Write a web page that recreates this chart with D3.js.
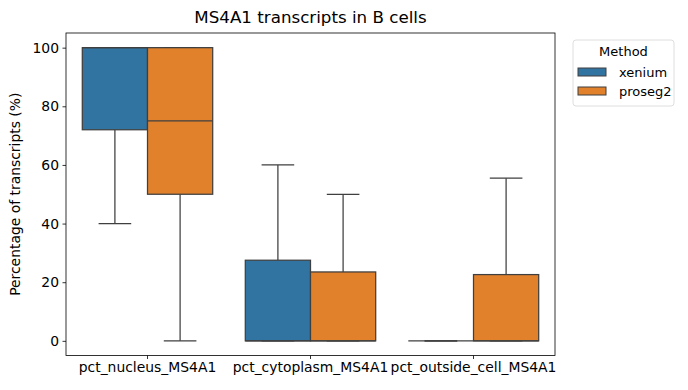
<!DOCTYPE html>
<html>
<head>
<meta charset="utf-8">
<script src="https://cdn.jsdelivr.net/npm/d3@7"></script>
<style>
  body { margin: 0; background: #fff; }
  text { font-family: "DejaVu Sans", sans-serif; fill: #000; }
</style>
</head>
<body>
<svg id="chart" width="688" height="390"></svg>
<script>
// data
const categories = ["pct_nucleus_MS4A1", "pct_cytoplasm_MS4A1", "pct_outside_cell_MS4A1"];
const methods = ["xenium", "proseg2"];
const colors = ["#3274a1", "#e1812c"];
// [whiskerLow, q1, median, q3, whiskerHigh] per category
const xeniumStats = [
  [40, 72, 100, 100, 100],
  [0, 0, 0, 27.5, 60],
  [0, 0, 0, 0, 0]
];
const proseg2Stats = [
  [0, 50, 75, 100, 100],
  [0, 0, 0, 23.5, 50],
  [0, 0, 0, 22.6, 55.5]
];
const yTicks = [0, 20, 40, 60, 80, 100];

const svg = d3.select("#chart");
const m = { left: 66, right: 555, top: 33, bottom: 355.5 };
const lineCol = "#3f3f3f";
const fs = "13.9px";

const x = d3.scaleBand().domain(categories).range([m.left, m.right]);
const y = d3.scaleLinear().domain([-5, 105]).range([m.bottom, m.top]);
const step = x.bandwidth();
const boxW = step * 0.4;

const all = [xeniumStats, proseg2Stats];

all.forEach((stats, mi) => {
  const g = svg.append("g");
  stats.forEach((s, ci) => {
    const cx = x(categories[ci]) + step / 2;
    const x0 = cx + (mi === 0 ? -boxW : 0);
    const mid = x0 + boxW / 2;
    const [lo, q1, med, q3, hi] = s;
    // whiskers
    g.append("line").attr("x1", mid).attr("x2", mid).attr("y1", y(q3)).attr("y2", y(hi))
      .attr("stroke", lineCol).attr("stroke-width", 1.25);
    g.append("line").attr("x1", mid).attr("x2", mid).attr("y1", y(q1)).attr("y2", y(lo))
      .attr("stroke", lineCol).attr("stroke-width", 1.25);
    // caps
    [lo, hi].forEach(v => {
      g.append("line").attr("x1", mid - boxW / 4).attr("x2", mid + boxW / 4)
        .attr("y1", y(v)).attr("y2", y(v)).attr("stroke", lineCol).attr("stroke-width", 1.25);
    });
    // box
    g.append("rect").attr("x", x0).attr("width", boxW)
      .attr("y", y(q3)).attr("height", Math.max(0, y(q1) - y(q3)))
      .attr("fill", colors[mi]).attr("stroke", lineCol).attr("stroke-width", 1.25);
    // median
    g.append("line").attr("x1", x0).attr("x2", x0 + boxW)
      .attr("y1", y(med)).attr("y2", y(med)).attr("stroke", lineCol).attr("stroke-width", 1.25);
  });
});

// axes
const yAxis = d3.axisLeft(y).tickValues(yTicks).tickSize(3.5).tickPadding(3.5);
const gy = svg.append("g").attr("transform", `translate(${m.left},0)`).call(yAxis);
gy.select(".domain").remove();
gy.selectAll("text").style("font-size", fs).style("font-family", "DejaVu Sans");
gy.selectAll("line").attr("stroke", "#000").attr("stroke-width", 0.8);

const xAxis = d3.axisBottom(x).tickSize(3.5).tickPadding(3.5);
const gx = svg.append("g").attr("transform", `translate(0,${m.bottom})`).call(xAxis);
gx.select(".domain").remove();
gx.selectAll("text").style("font-size", fs).style("font-family", "DejaVu Sans");
gx.selectAll("line").attr("stroke", "#000").attr("stroke-width", 0.8);

// frame
svg.append("rect").attr("x", m.left).attr("y", m.top)
  .attr("width", m.right - m.left).attr("height", m.bottom - m.top)
  .attr("fill", "none").attr("stroke", "#000").attr("stroke-width", 0.8);

// title and labels
svg.append("text").attr("x", (m.left + m.right) / 2).attr("y", 23)
  .attr("text-anchor", "middle").style("font-size", "16.7px")
  .text("MS4A1 transcripts in B cells");
svg.append("text").attr("transform", `translate(20,${(m.top + m.bottom) / 2}) rotate(-90)`)
  .attr("text-anchor", "middle").style("font-size", fs)
  .text("Percentage of transcripts (%)");

// legend
const lg = svg.append("g").attr("transform", "translate(573,40)");
lg.append("rect").attr("width", 101).attr("height", 66).attr("rx", 3)
  .attr("fill", "#fff").attr("stroke", "#d6d6d6").attr("stroke-width", 0.8);
lg.append("text").attr("x", 50.5).attr("y", 16).attr("text-anchor", "middle")
  .style("font-size", "13px").text("Method");
methods.forEach((name, i) => {
  lg.append("rect").attr("x", 5).attr("y", 28 + i * 19).attr("width", 28).attr("height", 8)
    .attr("fill", colors[i]).attr("stroke", lineCol).attr("stroke-width", 1);
  lg.append("text").attr("x", 46).attr("y", 36.5 + i * 19)
    .style("font-size", "13px").text(name);
});
</script>
</body>
</html>
